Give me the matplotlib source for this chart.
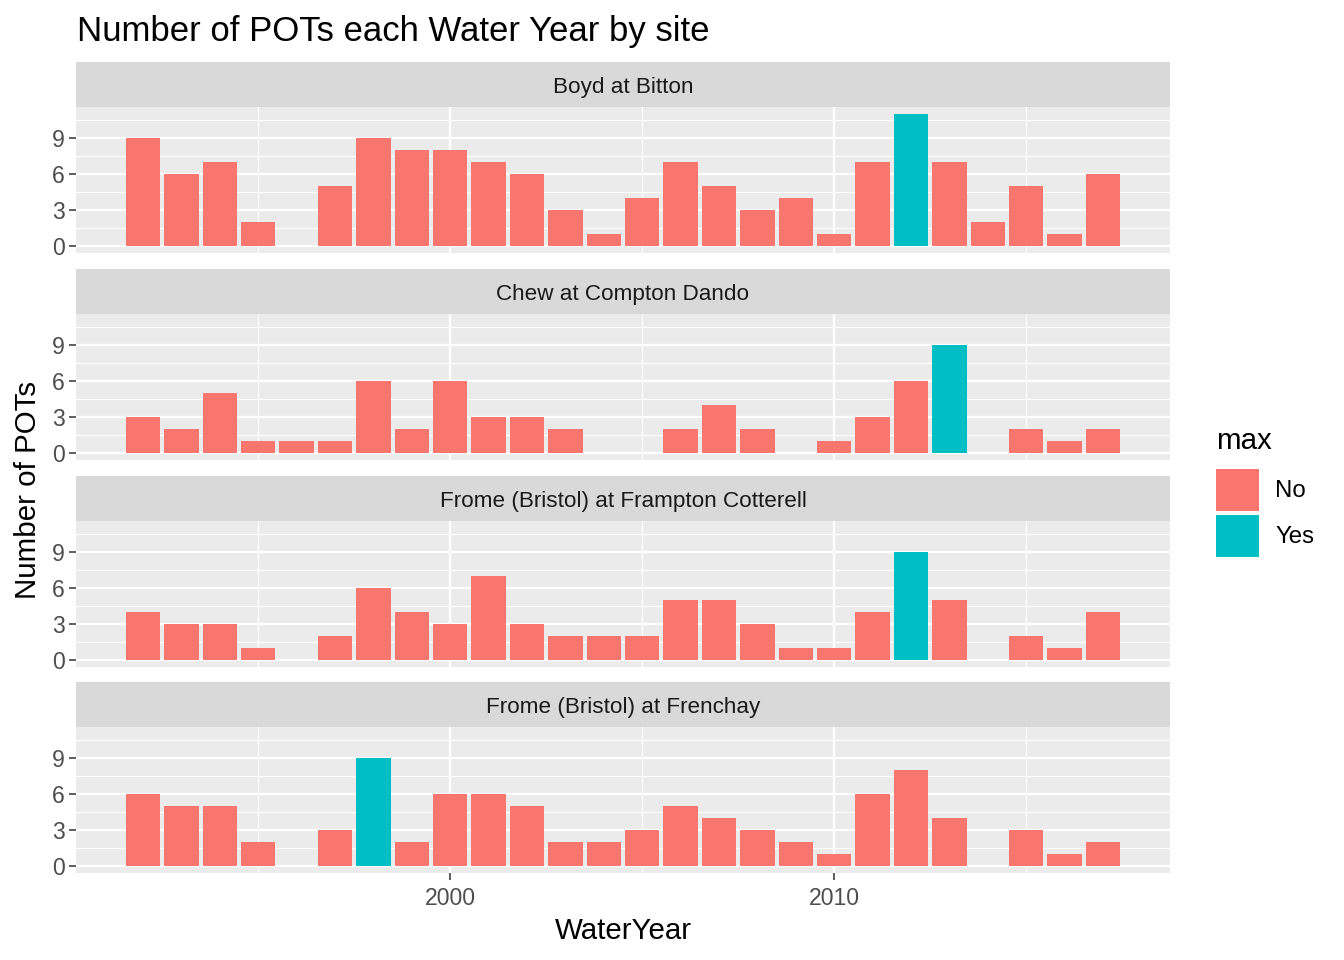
import numpy as np
import matplotlib
matplotlib.use("Agg")
import matplotlib.pyplot as plt
from matplotlib.patches import Rectangle

plt.rcParams['font.family'] = ['Liberation Sans', 'DejaVu Sans']

# data (None = no bar that year)
years = list(range(1992, 2018))
sites = ["Boyd at Bitton", "Chew at Compton Dando",
         "Frome (Bristol) at Frampton Cotterell", "Frome (Bristol) at Frenchay"]

boyd = [9, 6, 7, 2, None, 5, 9, 8, 8, 7, 6, 3, 1, 4, 7, 5, 3, 4, 1, 7, 11, 7, 2, 5, 1, 6]
chew = [3, 2, 5, 1, 1, 1, 6, 2, 6, 3, 3, 2, None, None, 2, 4, 2, None, 1, 3, 6, 9, None, 2, 1, 2]
frampton = [4, 3, 3, 1, None, 2, 6, 4, 3, 7, 3, 2, 2, 2, 5, 5, 3, 1, 1, 4, 9, 5, None, 2, 1, 4]
frenchay = [6, 5, 5, 2, None, 3, 9, 2, 6, 6, 5, 2, 2, 3, 5, 4, 3, 2, 1, 6, 8, 4, None, 3, 1, 2]
counts = [boyd, chew, frampton, frenchay]
max_year = [2012, 2013, 2012, 1998]

col_no = "#F8766D"
col_yes = "#00BFC4"
W, H = 1344, 960

def px(v):
    return v / 100 * 72

fig = plt.figure(figsize=(13.44, 9.6), dpi=100)

panel_left, panel_right = 76, 1170
strip_tops = [62, 269, 476, 682]
strip_h = 45
panel_h = 146

ymax = max(max(v for v in c if v is not None) for c in counts)
ylo, yhi = -0.05 * ymax, ymax * 1.05
xlo = years[0] - 0.45 - 0.05 * (years[-1] - years[0] + 0.9)
xhi = years[-1] + 0.45 + 0.05 * (years[-1] - years[0] + 0.9)

for i, site in enumerate(sites):
    st = strip_tops[i]
    # strip
    sax = fig.add_axes([panel_left / W, 1 - (st + strip_h) / H,
                        (panel_right - panel_left) / W, strip_h / H])
    sax.set_facecolor("#D9D9D9")
    sax.set_xticks([]); sax.set_yticks([])
    for s in sax.spines.values():
        s.set_visible(False)
    sax.text(0.5, 0.44, site, ha="center", va="center", fontsize=px(22.5),
             color="#1A1A1A", transform=sax.transAxes)

    pt = st + strip_h
    ax = fig.add_axes([panel_left / W, 1 - (pt + panel_h) / H,
                       (panel_right - panel_left) / W, panel_h / H])
    ax.set_facecolor("#EBEBEB")
    for s in ax.spines.values():
        s.set_visible(False)
    ax.set_xlim(xlo, xhi)
    ax.set_ylim(ylo, yhi)
    ax.set_yticks([0, 3, 6, 9])
    ax.set_yticks([1.5, 4.5, 7.5, 10.5], minor=True)
    ax.set_xticks([2000, 2010])
    ax.set_xticks([1995, 2005, 2015], minor=True)
    ax.grid(True, which="major", color="white", linewidth=1.6)
    ax.grid(True, which="minor", color="white", linewidth=0.8)
    ax.set_axisbelow(True)
    ax.tick_params(which="minor", length=0)
    ax.tick_params(which="major", length=5, width=1.1, color="#333333",
                   labelsize=px(23), labelcolor="#4D4D4D", pad=3)

    xs = [y for y, v in zip(years, counts[i]) if v is not None]
    hs = [v for v in counts[i] if v is not None]
    cs = [col_yes if y == max_year[i] else col_no for y in xs]
    ax.bar(xs, hs, width=0.9, color=cs, zorder=3)

    if i < 3:
        ax.tick_params(axis="x", which="both", length=0, labelbottom=False)
    else:
        ax.tick_params(axis="x", pad=5)

fig.text(77 / W, 1 - 32 / H, "Number of POTs each Water Year by site",
         fontsize=px(34.8), color="black", ha="left", va="center")
fig.text(623 / W, 1 - 931 / H, "WaterYear", fontsize=px(29.5),
         ha="center", va="center")
fig.text(28 / W, 1 - 490 / H, "Number of POTs", fontsize=px(29.5),
         rotation=90, ha="center", va="center")

# legend
fig.text(1216 / W, 1 - 441 / H, "max", fontsize=px(29.5), ha="left", va="center")
for j, (lab, c) in enumerate([("No", col_no), ("Yes", col_yes)]):
    top = 469 + j * 46
    fig.patches.append(Rectangle((1216 / W, 1 - (top + 42) / H), 43 / W, 42 / H,
                                 facecolor=c, edgecolor="none",
                                 transform=fig.transFigure))
    fig.text(1275 / W, 1 - (top + 22) / H, lab, fontsize=px(24),
             ha="left", va="center")

fig.savefig("out.png", dpi=100)
